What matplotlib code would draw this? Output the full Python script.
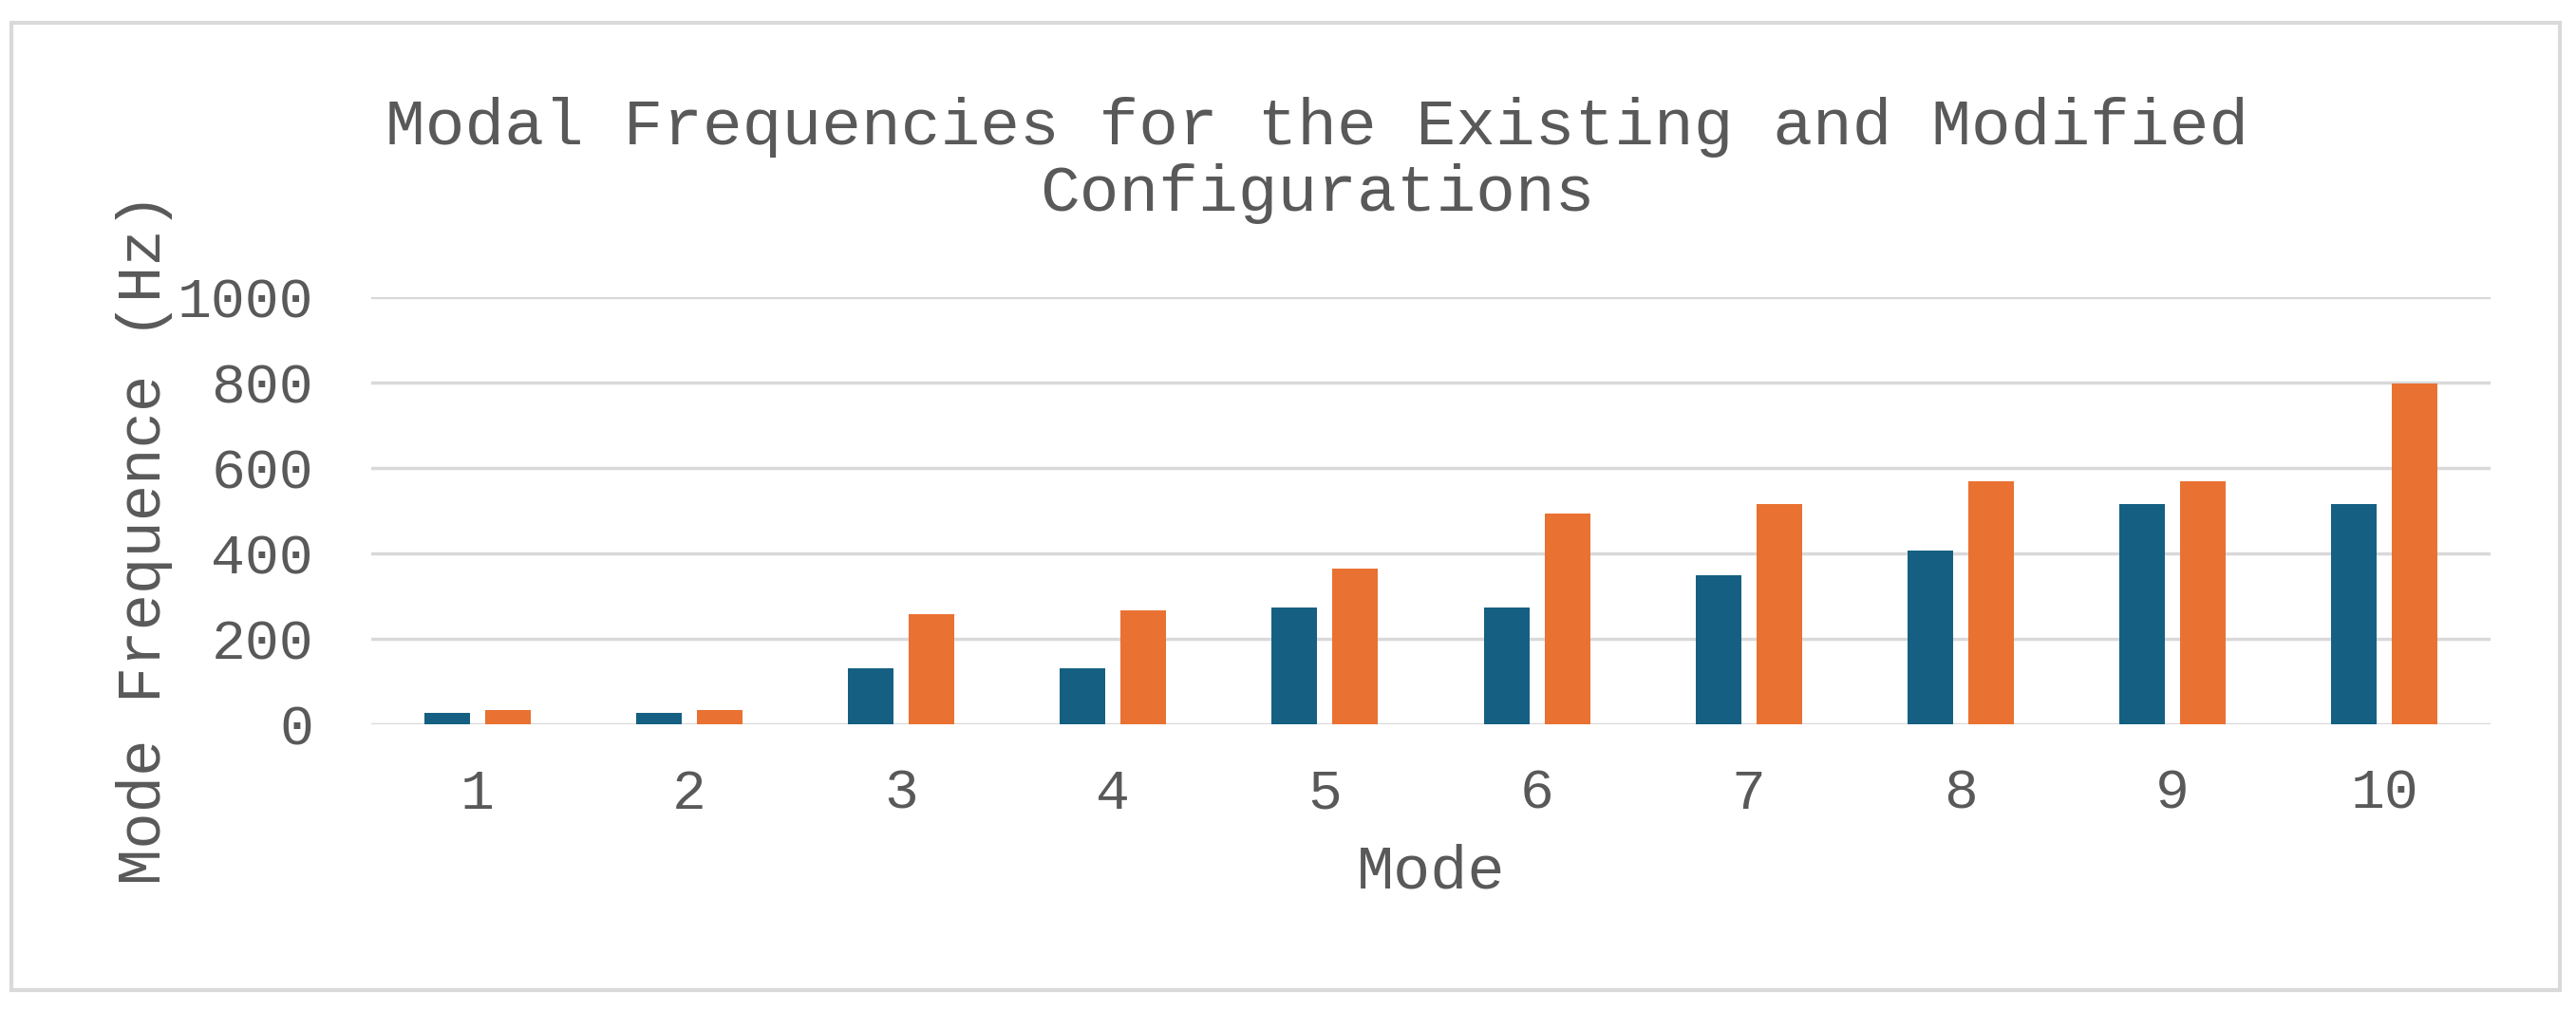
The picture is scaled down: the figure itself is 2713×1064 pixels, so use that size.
import matplotlib
matplotlib.use("Agg")
from matplotlib import pyplot as plt
from matplotlib.patches import Rectangle
import numpy as np

modes = ["1", "2", "3", "4", "5", "6", "7", "8", "9", "10"]
existing = [26, 26, 132, 132, 274, 274, 350, 407, 516, 516]
modified = [33, 33, 258, 266, 365, 494, 516, 570, 570, 798]
yticks = [0, 200, 400, 600, 800, 1000]

blue = "#156082"
orange = "#E97132"
text_col = "#595959"
grid_col = "#D9D9D9"

plt.rcParams['font.family'] = ['Liberation Mono', 'DejaVu Sans Mono']

fig = plt.figure(figsize=(27.13, 10.64), dpi=100)
fig.patch.set_facecolor("white")

# outer chart border
fig.patches.append(Rectangle((12/2713, 1 - 1043/1064), (2696 - 12)/2713, (1043 - 24)/1064,
                             transform=fig.transFigure, fill=False,
                             edgecolor=grid_col, linewidth=3))

ax = fig.add_axes([391/2713, 1 - 763/1064, (2623 - 391)/2713, (763 - 313)/1064])

x = np.arange(len(modes))
w = 0.215
off = 0.143
ax.bar(x - off, existing, w, color=blue, zorder=3)
ax.bar(x + off, modified, w, color=orange, zorder=3)

ax.set_xlim(-0.5, len(modes) - 0.5)
ax.set_ylim(0, 1000)
ax.set_yticks(yticks)
ax.set_xticks(x)
ax.set_xticklabels(modes)
ax.grid(axis="y", color=grid_col, linewidth=2.5, zorder=0)
for s in ax.spines.values():
    s.set_visible(False)
ax.tick_params(length=0, labelsize=43, colors=text_col)
ax.tick_params(axis="y", pad=44)
ax.tick_params(axis="x", pad=33)

fig.text(152/2713, 1 - 567/1064, "Mode Frequence (Hz)", rotation=90,
         ha="center", va="center", fontsize=46, color=text_col)
fig.text(1507/2713, 1 - 918/1064, "Mode", ha="center", va="center",
         fontsize=47, color=text_col)
fig.text(1387/2713, 1 - 169/1064,
         "Modal Frequencies for the Existing and Modified\nConfigurations",
         ha="center", va="center", fontsize=50, color=text_col, linespacing=1.1)

plt.savefig("out.png", dpi=100, facecolor="white")
